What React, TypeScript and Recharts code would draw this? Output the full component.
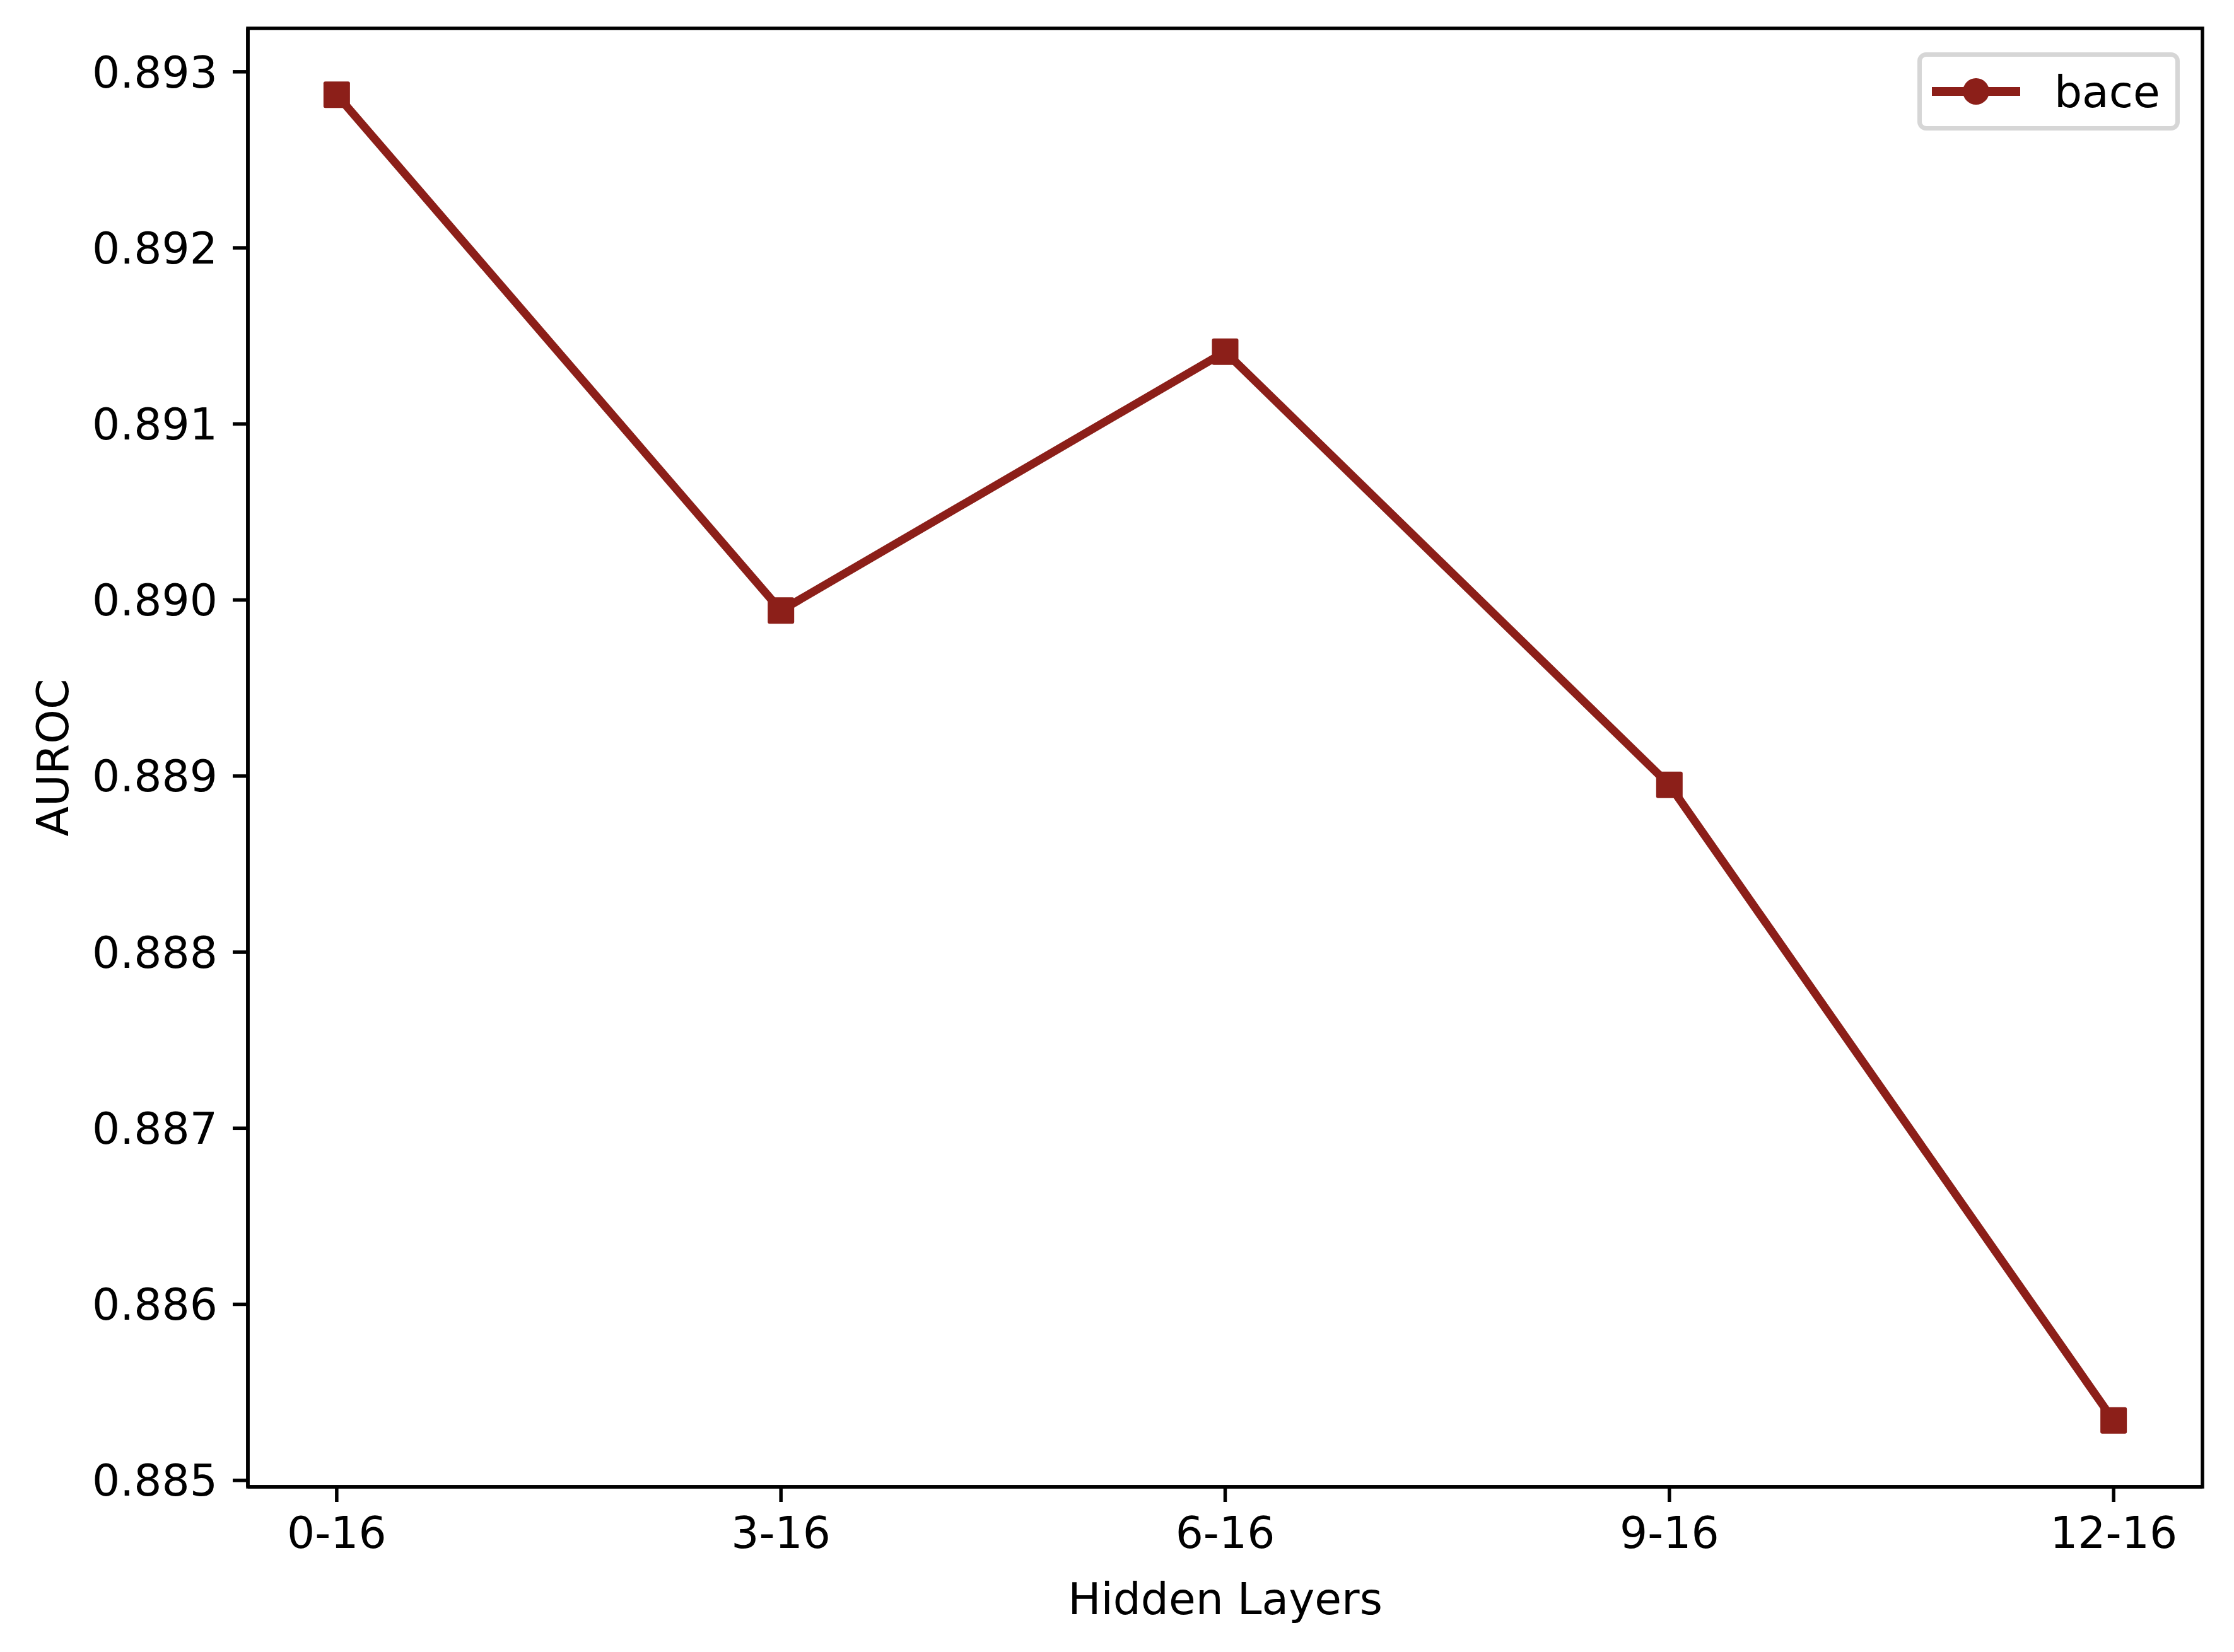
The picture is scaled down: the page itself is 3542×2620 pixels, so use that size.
import { LineChart, Line, XAxis, YAxis, Legend, ReferenceArea } from "recharts"

const categories = ["0-16", "3-16", "6-16", "9-16", "12-16"]
const auroc = [0.89287, 0.88994, 0.89141, 0.88895, 0.88534]
const yTicks = [0.885, 0.886, 0.887, 0.888, 0.889, 0.89, 0.891, 0.892, 0.893]
const seriesName = "bace"

const color = "#8c1f19"
const font = "DejaVu Sans"
const fontSize = 69.5

const data = categories.map((label, i) => ({ x: i, label, auroc: auroc[i] }))

// matplotlib style 5% margins
const yMin = Math.min(...auroc)
const yMax = Math.max(...auroc)
const yPad = (yMax - yMin) * 0.05
const yDomain = [yMin - yPad, yMax + yPad]
const xDomain = [-0.2, categories.length - 1 + 0.2]

function SquareDot(props: any) {
  const { cx, cy } = props
  if (cx == null || cy == null) return null
  const s = 42
  return <rect x={cx - s / 2} y={cy - s / 2} width={s} height={s} rx={3} fill={color} />
}

function LegendBox() {
  return (
    <div
      style={{
        width: 416,
        height: 124,
        boxSizing: "border-box",
        border: "7px solid #d6d6d6",
        borderRadius: 14,
        background: "#fff",
        display: "flex",
        alignItems: "center",
        fontFamily: font,
        fontSize,
        color: "#000",
      }}
    >
      <svg width={140} height={44} style={{ marginLeft: 16 }}>
        <line x1={0} y1={22} x2={140} y2={22} stroke={color} strokeWidth={14} />
        <circle cx={70} cy={22} r={21} fill={color} />
      </svg>
      <span style={{ marginLeft: 54 }}>{seriesName}</span>
    </div>
  )
}

function App() {
  return (
    <div style={{ position: "absolute", left: 0, top: 0, background: "#fff" }}>
      <LineChart
        width={3542}
        height={2620}
        data={data}
        margin={{ top: 45, right: 50, left: 0, bottom: 0 }}
        style={{ fontFamily: font }}
      >
        <XAxis
          dataKey="x"
          type="number"
          domain={xDomain}
          ticks={data.map((d) => d.x)}
          tickFormatter={(v: number) => categories[v] ?? ""}
          height={262}
          axisLine={{ stroke: "#000", strokeWidth: 5.5 }}
          tickLine={{ stroke: "#000", strokeWidth: 5.5 }}
          tickSize={24}
          tickMargin={24}
          tick={{ fill: "#000", fontSize, fontFamily: font }}
          allowDataOverflow
          label={{
            value: "Hidden Layers",
            position: "center",
            dy: 46,
            fill: "#000",
            fontSize,
            fontFamily: font,
          }}
        />
        <YAxis
          type="number"
          domain={yDomain}
          ticks={yTicks}
          tickFormatter={(v: number) => v.toFixed(3)}
          width={393}
          axisLine={{ stroke: "#000", strokeWidth: 5.5 }}
          tickLine={{ stroke: "#000", strokeWidth: 5.5 }}
          tickSize={24}
          tickMargin={24}
          tick={{ fill: "#000", fontSize, fontFamily: font }}
          allowDataOverflow
          label={{
            value: "AUROC",
            angle: -90,
            position: "center",
            dx: -113,
            fill: "#000",
            fontSize,
            fontFamily: font,
          }}
        />
        <ReferenceArea
          x1={xDomain[0]}
          x2={xDomain[1]}
          y1={yDomain[0]}
          y2={yDomain[1]}
          fill="none"
          stroke="#000"
          strokeWidth={5.5}
          ifOverflow="visible"
        />
        <Legend
          layout="horizontal"
          verticalAlign="middle"
          align="center"
          wrapperStyle={{ left: 3040, top: 83, width: 416, height: 124 }}
          content={() => <LegendBox />}
        />
        <Line
          type="linear"
          dataKey="auroc"
          name={seriesName}
          stroke={color}
          strokeWidth={13}
          dot={<SquareDot />}
          activeDot={false}
          isAnimationActive={false}
        />
      </LineChart>
    </div>
  )
}

export default App
